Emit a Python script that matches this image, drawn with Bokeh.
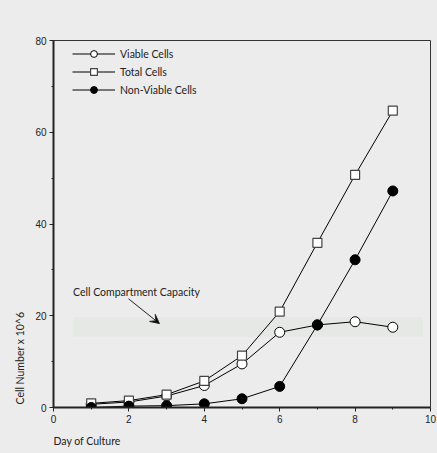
from bokeh.plotting import figure
from bokeh.models import (Range1d, Label, Arrow, VeeHead, Legend, LegendItem, Title,
                          BoxAnnotation, FixedTicker, GlobalInlineStyleSheet)
from bokeh.embed import file_html
from bokeh.resources import INLINE

days = [1, 2, 3, 4, 5, 6, 7, 8, 9]
viable = [0.7, 1.2, 2.5, 4.8, 9.5, 16.4, 18.0, 18.7, 17.5]
total = [0.9, 1.5, 2.8, 5.8, 11.3, 20.9, 35.9, 50.7, 64.7]
nonviable = [0.0, 0.3, 0.4, 0.8, 1.9, 4.6, 18.0, 32.2, 47.2]

x_ticks = [0, 2, 4, 6, 8, 10]
y_ticks = [0, 20, 40, 60, 80]
capacity_low, capacity_high = 15.4, 19.7

BG = "#ececec"
TICK_FONT = "Liberation Sans"
TEXT_FONT = "Lato"
FS = "10.5px"

p = figure(width=437, height=453, output_backend="svg", toolbar_location=None,
           x_range=Range1d(0, 10), y_range=Range1d(0, 80),
           min_border_left=53, min_border_right=7, min_border_top=40, min_border_bottom=45)
p.stylesheets = [GlobalInlineStyleSheet(css="body { background: #ececec; }")]
p.background_fill_color = BG
p.border_fill_color = BG
p.outline_line_color = "#333333"
p.outline_line_width = 1
p.grid.visible = False

for ax in (p.xaxis[0], p.yaxis[0]):
    ax.axis_line_width = 2
    ax.axis_line_color = "#222222"
    ax.major_tick_line_color = "#222222"
    ax.minor_tick_line_color = "#222222"
    ax.major_tick_in = 0
    ax.major_tick_out = 4
    ax.minor_tick_in = 0
    ax.minor_tick_out = 2
    ax.major_label_text_font = TICK_FONT
    ax.major_label_text_font_size = "10px"
    ax.major_label_text_color = "#222222"
    ax.major_label_standoff = 3
p.xaxis[0].ticker = FixedTicker(ticks=x_ticks, minor_ticks=[1, 3, 5, 7, 9])
p.yaxis[0].ticker = FixedTicker(ticks=y_ticks, minor_ticks=[10, 30, 50, 70])

# capacity band
p.add_layout(BoxAnnotation(left=0.53, right=9.8, bottom=capacity_low, top=capacity_high,
                           fill_color="#e5e8e5", fill_alpha=1.0, line_alpha=0, level="underlay"))

r_vl = p.line(days, viable, line_color="black", line_width=1)
r_vs = p.scatter(days, viable, marker="circle", size=10, fill_color="white", line_color="black", line_width=1)
r_tl = p.line(days, total, line_color="black", line_width=1)
r_ts = p.scatter(days, total, marker="square", size=9, fill_color="white", line_color="#444444", line_width=1.2)
r_nl = p.line(days, nonviable, line_color="black", line_width=1)
r_ns = p.scatter(days, nonviable, marker="circle", size=10, fill_color="black", line_color="black", line_width=1)

legend = Legend(items=[
    LegendItem(label="Viable Cells", renderers=[r_vl, r_vs]),
    LegendItem(label="Total Cells", renderers=[r_tl, r_ts]),
    LegendItem(label="Non-Viable Cells", renderers=[r_nl, r_ns]),
], location=(19, 309), glyph_width=43, glyph_height=17, label_height=17, spacing=1,
   label_standoff=5, padding=0, margin=0, border_line_alpha=0, background_fill_alpha=0,
   label_text_font=TEXT_FONT, label_text_font_size=FS, label_text_color="#222222")
p.add_layout(legend)

p.add_layout(Label(x=0.52, y=25.1, text="Cell Compartment Capacity", text_font=TEXT_FONT,
                   text_font_size=FS, text_baseline="middle", text_align="left", text_color="#222222"))
p.add_layout(Arrow(x_start=1.99, y_start=23.7, x_end=2.81, y_end=18.3, line_width=1, line_color="#222222",
                   end=VeeHead(size=9, line_width=1, line_color="#222222")))

p.add_layout(Title(text="Cell Number x 10^6", align="left", offset=3, standoff=14, text_font=TEXT_FONT,
                   text_font_size=FS, text_font_style="normal", text_color="#222222"), "left")
p.add_layout(Title(text="Day of Culture", align="left", offset=0, standoff=14, text_font=TEXT_FONT,
                   text_font_size=FS, text_font_style="normal", text_color="#222222"), "below")

open("out.html", "w").write(file_html(p, INLINE))
